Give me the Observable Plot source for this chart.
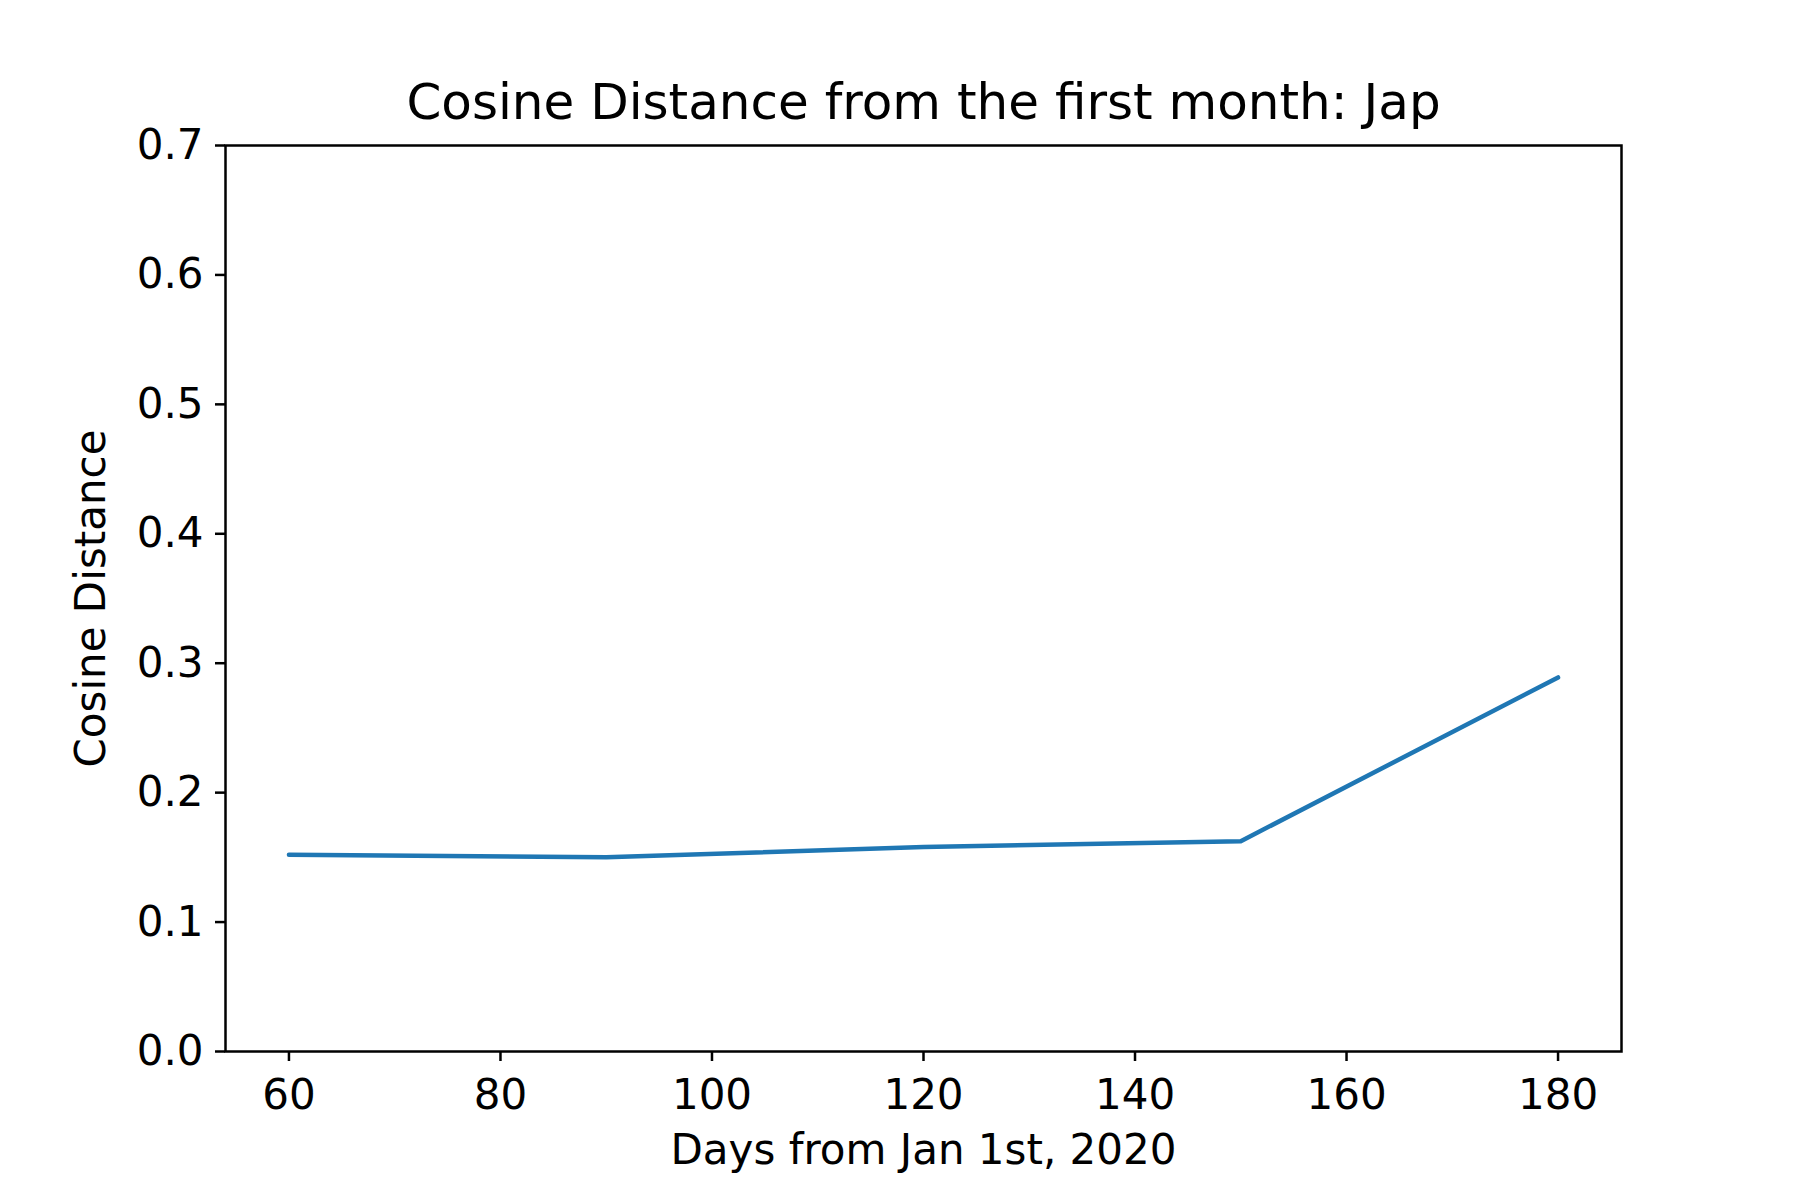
<!DOCTYPE html>
<html>
<head>
<meta charset="utf-8">
<script src="https://cdn.jsdelivr.net/npm/d3@7"></script>
<script src="https://cdn.jsdelivr.net/npm/@observablehq/plot@0.6"></script>
<style>
  body { margin: 0; background: #fff; }
  #chart svg { font-family: "DejaVu Sans", sans-serif; }
</style>
</head>
<body>
<div id="chart"></div>
<script>
const days = [60, 90, 120, 150, 180];
const distance = [0.152, 0.150, 0.158, 0.1625, 0.289];
const xTicks = [60, 80, 100, 120, 140, 160, 180];
const yTicks = [0, 0.1, 0.2, 0.3, 0.4, 0.5, 0.6, 0.7];

const data = days.map((d, i) => ({day: d, dist: distance[i]}));

const chart = Plot.plot({
  width: 1800,
  height: 1200,
  marginLeft: 225,
  marginRight: 179,
  marginTop: 145,
  marginBottom: 149,
  style: {fontSize: "42px", fontFamily: "DejaVu Sans, sans-serif", color: "#000", background: "#fff"},
  x: {domain: [54, 186]},
  y: {domain: [0, 0.7]},
  marks: [
    Plot.frame({stroke: "#000", strokeWidth: 2.5}),
    Plot.axisX({ticks: xTicks, tickSize: 10, tickPadding: 18, strokeWidth: 2.5, fontSize: 42,
      label: "Days from Jan 1st, 2020", labelAnchor: "center", labelArrow: "none", labelOffset: 112}),
    Plot.axisY({ticks: yTicks, tickSize: 10, tickPadding: 12, strokeWidth: 2.5, fontSize: 42, tickFormat: d3.format(".1f"),
      label: "Cosine Distance", labelAnchor: "center", labelArrow: "none", labelOffset: 150}),
    Plot.line(data, {x: "day", y: "dist", stroke: "#1f77b4", strokeWidth: 4.5}),
    Plot.text(["Cosine Distance from the first month: Jap"], {
      frameAnchor: "top", dy: -62, fontSize: 50, fill: "#000"
    })
  ]
});
d3.select('#chart').append(() => chart);
</script>
</body>
</html>
